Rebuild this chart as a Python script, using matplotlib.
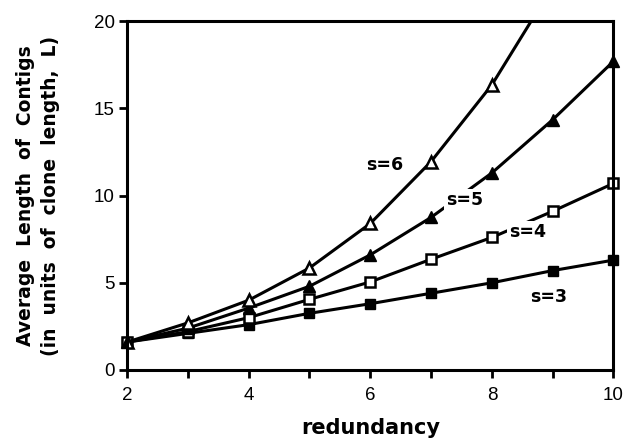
import matplotlib.pyplot as plt
from matplotlib.ticker import MultipleLocator

plt.rcParams['font.family'] = ['Liberation Sans', 'DejaVu Sans']

# values
redundancy = [2, 3, 4, 5, 6, 7, 8, 9, 10]
s3 = [1.6, 2.1, 2.6, 3.25, 3.8, 4.4, 5.0, 5.7, 6.3]
s4 = [1.6, 2.2, 3.0, 4.05, 5.05, 6.35, 7.6, 9.1, 10.7]
s5 = [1.6, 2.4, 3.55, 4.8, 6.6, 8.75, 11.3, 14.35, 17.7]
s6 = [1.6, 2.7, 4.0, 5.85, 8.4, 11.95, 16.35, 22.0]

labels = ['s=6', 's=5', 's=4', 's=3']
label_x = [6.24, 7.55, 8.58, 8.93]
label_y = [11.75, 9.75, 7.9, 4.2]

fig = plt.figure(figsize=(6.26, 4.41), dpi=100)
ax = fig.add_axes([0.203, 0.161, 0.777, 0.791])

lw = 2.2
ax.plot(redundancy, s3, '-s', color='black', lw=lw, ms=7, mfc='black', mec='black', clip_on=False)
ax.plot(redundancy, s4, '-s', color='black', lw=lw, ms=7, mfc='white', mec='black', mew=1.8, clip_on=False)
ax.plot(redundancy, s5, '-^', color='black', lw=lw, ms=8, mfc='black', mec='black', clip_on=False)
ax.plot(redundancy[:len(s6)], s6, '-^', color='black', lw=lw, ms=8, mfc='white', mec='black', mew=1.8)

bold = dict(family='DejaVu Sans', fontweight='bold')
for t, x, y in zip(labels, label_x, label_y):
    ax.text(x, y, t, fontsize=12.5, ha='center', va='center',
            bbox=dict(facecolor='white', edgecolor='none', pad=1.5), zorder=5, **bold)

ax.set_xlim(2, 10)
ax.set_ylim(0, 20)
ax.xaxis.set_major_locator(MultipleLocator(2))
ax.xaxis.set_minor_locator(MultipleLocator(1))
ax.yaxis.set_major_locator(MultipleLocator(5))
ax.tick_params(which='both', direction='out', length=6, width=2, labelsize=13.5)
ax.tick_params(axis='x', pad=6)
ax.tick_params(axis='y', pad=3)
for sp in ax.spines.values():
    sp.set_linewidth(2.2)

ax.set_xlabel('redundancy', fontsize=15, labelpad=10, **bold)
ax.set_ylabel('Average  Length  of  Contigs\n(in  units  of  clone  length,  L)',
              fontsize=13.5, linespacing=1.45, **bold)
ax.yaxis.set_label_coords(-0.137, 0.5)

fig.savefig('out.png', dpi=100)
